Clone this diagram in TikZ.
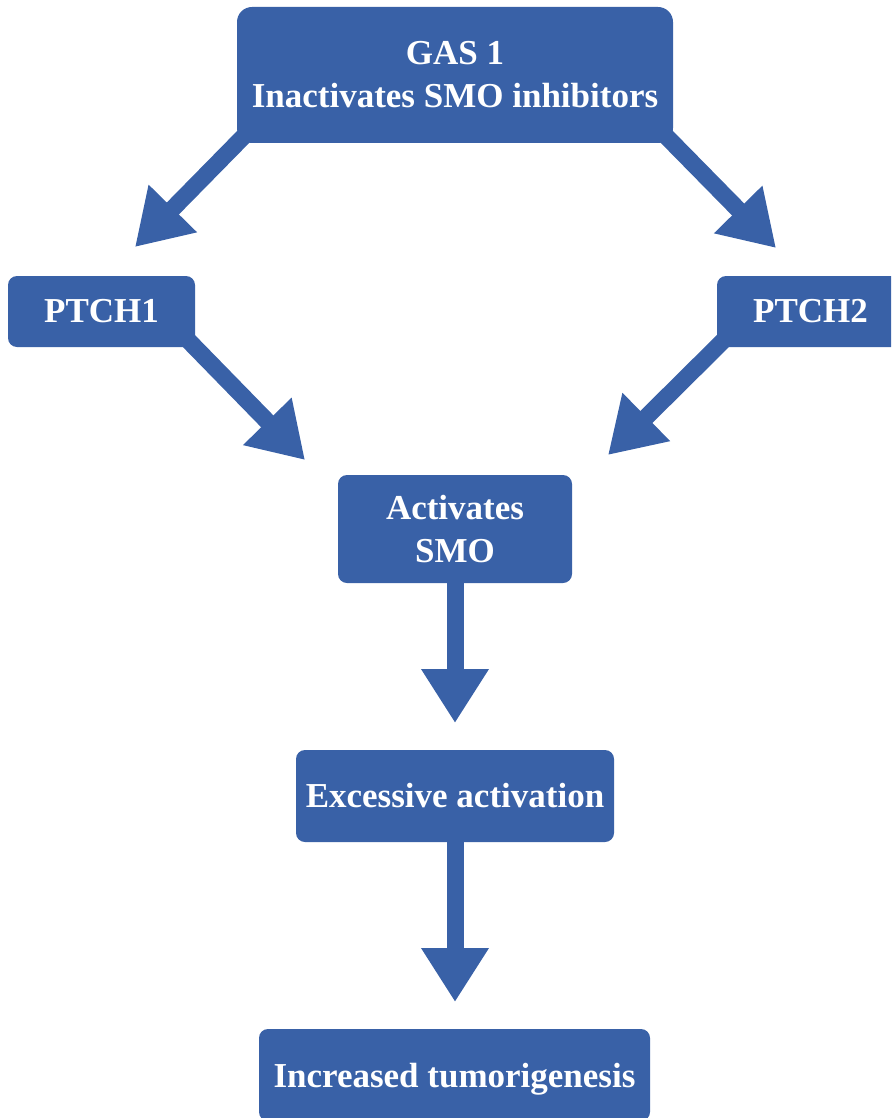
\documentclass[tikz,border=0pt]{standalone}
\usepackage{fontspec}
\setmainfont{Liberation Serif}
\usetikzlibrary{arrows.meta,backgrounds}
\definecolor{boxblue}{RGB}{57,97,167}
\begin{document}
\begin{tikzpicture}[x=1pt,y=-1pt,
  box/.style={rectangle, fill=boxblue, text=white, rounded corners=9pt, inner sep=0pt,
    align=center, font=\bfseries\fontsize{35}{43}\selectfont},
  conn/.style={draw=boxblue, line width=17pt, -{Triangle[width=64pt,length=54pt]}}]
\useasboundingbox (0,0) rectangle (891,1118);
\clip (0,0) rectangle (891,1118);
% boxes
\node[box, rounded corners=15pt, minimum width=436pt, minimum height=136pt] (gas) at (455,75)
  {GAS 1\\Inactivates SMO inhibitors};
\node[box, minimum width=187pt, minimum height=71pt] (ptch1) at (101.5,311.5) {PTCH1};
\node[box, minimum width=187pt, minimum height=71pt] (ptch2) at (810.5,311.5) {PTCH2};
\node[box, minimum width=234pt, minimum height=108pt] (smo) at (455,529) {Activates\\SMO};
\node[box, minimum width=318pt, minimum height=92pt] (exc) at (455,796) {Excessive activation};
\node[box, minimum width=391pt, minimum height=92pt, text depth=0pt] (inc) at (454.5,1075) {Increased tumorigenesis};
% arrow tips
\coordinate (t1) at (135,247);
\coordinate (t2) at (776,248);
\coordinate (t3) at (305,460);
\coordinate (t4) at (608,455);
\coordinate (t5) at (455,723);
\coordinate (t6) at (455,1002);
\begin{scope}[on background layer]
\draw[conn] ([shift={(12,-12)}]gas.south west) -- (t1);
\draw[conn] ([shift={(-12,-12)}]gas.south east) -- (t2);
\draw[conn] ([shift={(-12,-12)}]ptch1.south east) -- (t3);
\draw[conn] ([shift={(12,-12)}]ptch2.south west) -- (t4);
\draw[conn] (smo.center) -- (t5);
\draw[conn] (exc.center) -- (t6);
\end{scope}
\end{tikzpicture}
\end{document}
